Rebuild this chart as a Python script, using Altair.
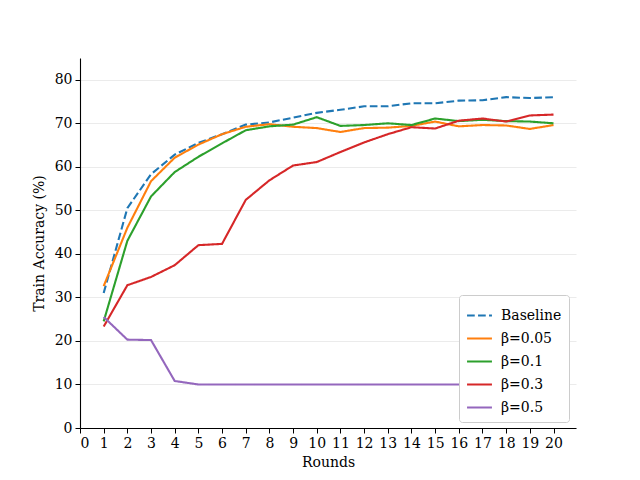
import altair as alt
import pandas as pd

rounds = list(range(1, 21))
series_names = ["Baseline", "β=0.05", "β=0.1", "β=0.3", "β=0.5"]
baseline = [31.0, 50.5, 58.3, 62.8, 65.5, 67.5, 69.7, 70.2, 71.3, 72.4,
            73.1, 73.9, 73.9, 74.6, 74.6, 75.2, 75.3, 76.0, 75.8, 76.0]
beta_005 = [32.6, 46.0, 56.7, 62.1, 65.1, 67.5, 69.2, 69.8, 69.2, 68.9,
            68.0, 68.9, 69.0, 69.4, 70.4, 69.3, 69.6, 69.5, 68.7, 69.6]
beta_01 = [24.5, 43.0, 53.2, 58.8, 62.3, 65.4, 68.4, 69.3, 69.7, 71.4,
           69.4, 69.6, 70.0, 69.6, 71.1, 70.5, 70.8, 70.5, 70.4, 70.0]
beta_03 = [23.3, 32.8, 34.7, 37.4, 42.0, 42.3, 52.4, 56.9, 60.3, 61.1,
           63.4, 65.6, 67.5, 69.1, 68.8, 70.6, 71.1, 70.4, 71.8, 72.0]
beta_05 = [25.5, 20.3, 20.2, 10.8, 10.0, 10.0, 10.0, 10.0, 10.0, 10.0,
           10.0, 10.0, 10.0, 10.0, 10.0, 10.0, 10.0, 10.0, 10.0, 10.0]
colors = ["#1f77b4", "#ff7f0e", "#2ca02c", "#d62728", "#9467bd"]
x_ticks = list(range(0, 21))
y_ticks = list(range(0, 81, 10))

rows = []
for name, vals in zip(series_names, [baseline, beta_005, beta_01, beta_03, beta_05]):
    for r, v in zip(rounds, vals):
        rows.append({"Round": r, "Acc": v, "Series": name})
df = pd.DataFrame(rows)

FONT = "DejaVu Serif"

chart = alt.Chart(df).mark_line(strokeWidth=2.1).encode(
    x=alt.X("Round:Q", scale=alt.Scale(domain=[0, 20.95], nice=False, zero=False),
            axis=alt.Axis(values=x_ticks, title="Rounds", format="d", grid=False)),
    y=alt.Y("Acc:Q", scale=alt.Scale(domain=[0, 85], nice=False),
            axis=alt.Axis(values=y_ticks, title="Train Accuracy (%)", grid=True)),
    color=alt.Color("Series:N", scale=alt.Scale(domain=series_names, range=colors),
                    legend=alt.Legend(title=None, orient="none", legendX=379, legendY=237,
                                      labelFont=FONT)),
    strokeDash=alt.StrokeDash("Series:N",
                              scale=alt.Scale(domain=series_names,
                                              range=[[7.7, 3.3], [1, 0], [1, 0], [1, 0], [1, 0]]),
                              legend=None),
).properties(
    width=496, height=370,
    autosize=alt.AutoSizeParams(type="none"),
    padding={"left": 72, "top": 50, "right": 56, "bottom": 45},
).configure(font=FONT).configure_view(stroke=None).configure_axis(
    labelFont=FONT, titleFont=FONT, labelFontSize=14, titleFontSize=14,
    titleFontWeight="normal", labelColor="black", titleColor="black",
    domainColor="black", tickColor="black", tickSize=5, domainWidth=1.1,
    gridColor="#ebebeb", gridWidth=1, labelPadding=3,
).configure_axisX(titlePadding=5).configure_axisY(titlePadding=8).configure_legend(
    symbolType="stroke", symbolSize=620, symbolStrokeWidth=2.1,
    labelFont=FONT, labelFontSize=14, labelColor="black", rowPadding=2,
    fillColor="white", strokeColor="#cccccc", cornerRadius=3,
    padding=7, labelOffset=8,
)

chart.save("out.html", embed_options={"renderer": "svg", "actions": False})
